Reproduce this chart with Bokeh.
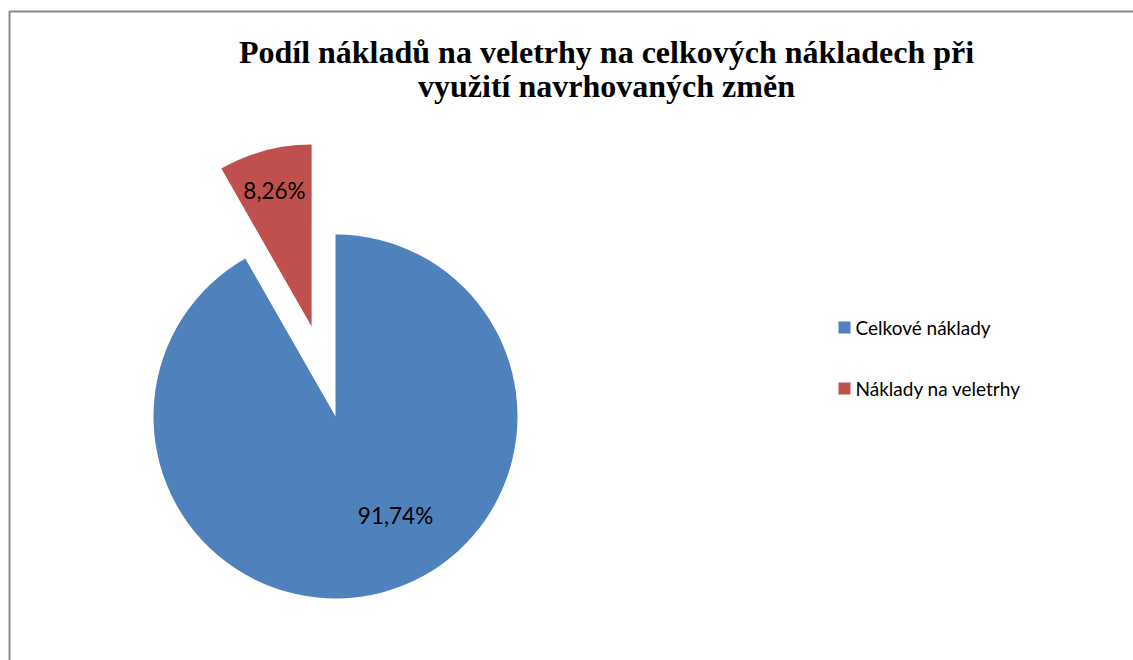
import math
from bokeh.plotting import figure
from bokeh.models import Range1d
from bokeh.core.properties import value
from bokeh.embed import file_html
from bokeh.resources import INLINE

# ---- data ----
categories = ["Celkové náklady", "Náklady na veletrhy"]
shares = [91.74, 8.26]
pct_labels = ["91,74%", "8,26%"]
colors = ["#4F81BD", "#C0504D"]
title_lines = ["Podíl nákladů na veletrhy na celkových nákladech při",
               "využití navrhovaných změn"]

# ---- layout (page pixel coords converted to data) ----
W, H = 1133, 660
def X(px): return px
def Y(py): return H - py

p = figure(width=W, height=H, output_backend="svg", toolbar_location=None,
           x_range=Range1d(0, W), y_range=Range1d(0, H),
           min_border=0, outline_line_color=None)
p.axis.visible = False
p.xgrid.visible = False
p.ygrid.visible = False
p.background_fill_color = "white"
p.border_fill_color = "white"

# chart border (left and top visible)
p.line(x=[X(9), X(9), X(1133)], y=[Y(660), Y(11), Y(11)],
       line_color="#898989", line_width=2)

# pie
cx, cy, r = X(335), Y(416), 182
explode = [0, 93]
total = sum(shares)
red_frac = shares[1] / total
angles = {
    1: (math.radians(90), math.radians(90) + 2 * math.pi * red_frac),
    0: (math.radians(90) + 2 * math.pi * red_frac, math.radians(90) + 2 * math.pi),
}
label_pos = {0: (X(395), Y(515)), 1: (X(274), Y(190))}
for i in [0, 1]:
    a0, a1 = angles[i]
    mid = (a0 + a1) / 2
    ox = cx + explode[i] * math.cos(mid)
    oy = cy + explode[i] * math.sin(mid)
    p.wedge(x=[ox], y=[oy], radius=r, start_angle=a0, end_angle=a1,
            fill_color=colors[i], line_color=None)
    lx, ly = label_pos[i]
    p.text(x=[lx], y=[ly], text=[pct_labels[i]], text_font=value("Lato"),
           text_font_size="22.5px", text_align="center", text_baseline="middle",
           text_color="black")

# title
p.text(x=[X(606), X(606)], y=[Y(51), Y(85)], text=title_lines,
       text_font=value("Liberation Serif"), text_font_style="bold",
       text_font_size="32px", text_align="center", text_baseline="middle",
       text_color="black")

# legend
p.rect(x=[X(844)] * 2, y=[Y(327), Y(388)], width=12, height=12,
       fill_color=colors, line_color=None)
p.text(x=[X(855)] * 2, y=[Y(327), Y(388)], text=categories, text_font=value("Lato"),
       text_font_size="19px", text_align="left", text_baseline="middle",
       text_color="black")

open("out.html", "w").write(file_html(p, INLINE))
